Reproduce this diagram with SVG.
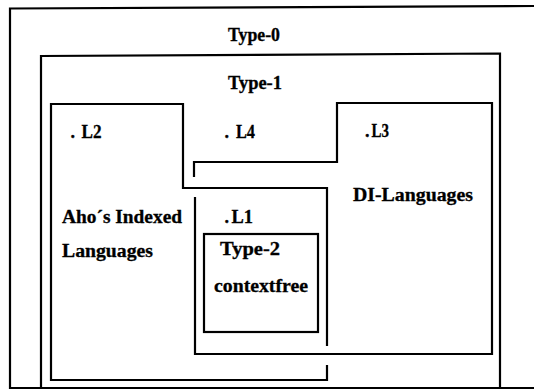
<svg xmlns="http://www.w3.org/2000/svg" width="534" height="390" viewBox="0 0 534 390">
<style>
.ln{fill:none;stroke:#000;stroke-width:2.2;stroke-linejoin:miter;stroke-linecap:square}
.t{font-family:"Liberation Serif","Times New Roman",serif;font-weight:bold;font-size:18px;fill:#000;stroke:#000;stroke-width:0.3}
</style>
<rect width="534" height="390" fill="#fff"/>
<g id="type0">
<path class="ln" d="M536,6 L10,8.5 V388 H536"/>
<text class="t" x="228" y="40.5" textLength="52" lengthAdjust="spacingAndGlyphs">Type-0</text>
</g>
<g id="type1">
<path class="ln" d="M41,388 V56 L500,53.5 V388"/>
<text class="t" x="228" y="89" textLength="54" lengthAdjust="spacingAndGlyphs">Type-1</text>
</g>
<g id="L2">
<path class="ln" d="M327,366 V380 H51 V104 H183 V188 H327 V345"/>
<text class="t" x="70.5" y="138">.</text>
<text class="t" x="81.5" y="138" textLength="20" lengthAdjust="spacingAndGlyphs">L2</text>
<text class="t" x="62" y="223" textLength="120" lengthAdjust="spacingAndGlyphs">Aho´s Indexed</text>
<text class="t" x="62" y="257" textLength="91" lengthAdjust="spacingAndGlyphs">Languages</text>
</g>
<g id="L3">
<path class="ln" d="M194,176 V162 H337 V103 H492 V354 H195 V198"/>
<text class="t" x="365" y="137">.</text>
<text class="t" x="371.5" y="137" textLength="17.5" lengthAdjust="spacingAndGlyphs">L3</text>
<text class="t" x="353" y="201" textLength="120" lengthAdjust="spacingAndGlyphs">DI-Languages</text>
</g>
<g id="L4">
<text class="t" x="224.5" y="138">.</text>
<text class="t" x="236" y="138" textLength="19" lengthAdjust="spacingAndGlyphs">L4</text>
</g>
<g id="L1">
<text class="t" x="224.5" y="223">.</text>
<text class="t" x="231.5" y="223" textLength="21.5" lengthAdjust="spacingAndGlyphs">L1</text>
</g>
<g id="type2">
<rect class="ln" x="204" y="234" width="114" height="98"/>
<text class="t" x="220" y="255" textLength="60" lengthAdjust="spacingAndGlyphs">Type-2</text>
<text class="t" x="214" y="291.5" textLength="94" lengthAdjust="spacingAndGlyphs">contextfree</text>
</g>
<g id="connectors"></g>
</svg>
